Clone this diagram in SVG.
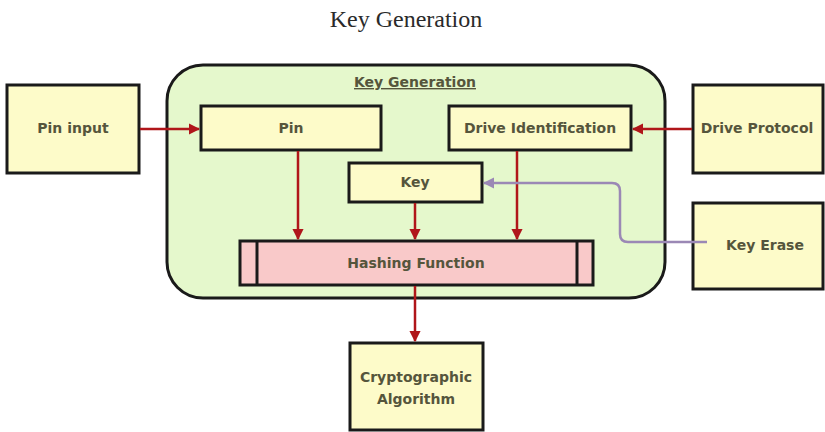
<svg xmlns="http://www.w3.org/2000/svg" width="825" height="432" viewBox="0 0 825 432">
<style>
.box{fill:#fdfbc9;stroke:#1a1a1a;stroke-width:3}
.lbl{font-family:"DejaVu Sans","Liberation Sans",Arial,sans-serif;font-size:14px;font-weight:bold;fill:#55553c;text-anchor:middle;dominant-baseline:middle}
.red{stroke:#b0161a;stroke-width:2.5;fill:none}
.pur{stroke:#9b88b5;stroke-width:2.5;fill:none}
</style>
<defs>
<marker id="ar" viewBox="0 0 10 10" refX="9" refY="5" markerWidth="4.5" markerHeight="4.5" orient="auto" markerUnits="strokeWidth"><path d="M0,0 L10,5 L0,10 z" fill="#b0161a"/></marker>
<marker id="ap" viewBox="0 0 10 10" refX="9" refY="5" markerWidth="4.5" markerHeight="4.5" orient="auto" markerUnits="strokeWidth"><path d="M0,0 L10,5 L0,10 z" fill="#9b88b5"/></marker>
</defs>
<rect width="825" height="432" fill="#ffffff"/>
<text x="406" y="27" font-family="Liberation Serif,'Times New Roman',serif" font-size="24" fill="#2a2a2a" text-anchor="middle">Key Generation</text>
<g id="keygen">
<rect x="167" y="65" width="498" height="233" rx="36" fill="#e5f8cc" stroke="#1a1a1a" stroke-width="3"/>
<text x="415" y="83" class="lbl" text-decoration="underline">Key Generation</text>
</g>
<g id="pininput"><rect class="box" x="7" y="85" width="132" height="88"/><text class="lbl" x="73" y="129">Pin input</text></g>
<g id="pin"><rect class="box" x="201" y="106" width="180" height="44"/><text class="lbl" x="291" y="129">Pin</text></g>
<g id="driveid"><rect class="box" x="449" y="106" width="182" height="44"/><text class="lbl" x="540" y="129">Drive Identification</text></g>
<g id="key"><rect class="box" x="349" y="163" width="133" height="39"/><text class="lbl" x="415" y="183">Key</text></g>
<g id="hash"><rect x="240" y="241" width="353" height="44" fill="#f9c9c9" stroke="#1a1a1a" stroke-width="3"/><line x1="257" y1="241" x2="257" y2="285" stroke="#1a1a1a" stroke-width="3"/><line x1="577" y1="241" x2="577" y2="285" stroke="#1a1a1a" stroke-width="3"/><text class="lbl" x="416" y="264">Hashing Function</text></g>
<g id="driveprotocol"><rect class="box" x="693" y="85" width="130" height="88"/><text class="lbl" x="757" y="129">Drive Protocol</text></g>
<g id="keyerase"><rect class="box" x="693" y="203" width="130" height="86"/><text class="lbl" x="765" y="246">Key Erase</text></g>
<g id="crypto"><rect class="box" x="350" y="343" width="133" height="87"/><text class="lbl" x="416" y="378">Cryptographic</text><text class="lbl" x="416" y="400">Algorithm</text></g>
<g id="connectors">
<line class="red" x1="140" y1="129" x2="199" y2="129" marker-end="url(#ar)"/>
<line class="red" x1="692" y1="129" x2="633" y2="129" marker-end="url(#ar)"/>
<line class="red" x1="298" y1="151" x2="298" y2="239" marker-end="url(#ar)"/>
<line class="red" x1="415" y1="203" x2="415" y2="239" marker-end="url(#ar)"/>
<line class="red" x1="517" y1="151" x2="517" y2="239" marker-end="url(#ar)"/>
<line class="red" x1="415" y1="286" x2="415" y2="341" marker-end="url(#ar)"/>
<path class="pur" d="M707,242 H628 Q620,242 620,234 V191 Q620,183 612,183 H484" marker-end="url(#ap)"/>
</g>
</svg>
